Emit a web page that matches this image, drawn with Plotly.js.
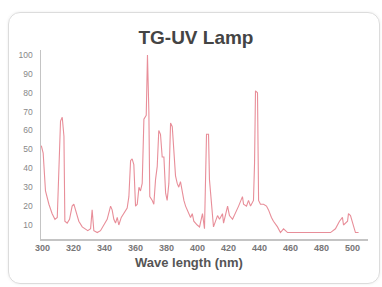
<!DOCTYPE html>
<html>
<head>
<meta charset="utf-8">
<script src="https://cdn.plot.ly/plotly-3.0.1.min.js"></script>
<style>
html,body{margin:0;padding:0;background:#fff;}
#frame{position:absolute;left:8px;top:12px;width:370px;height:270px;border:1.5px solid #dcdcdc;border-radius:12px;box-shadow:0 0 3px rgba(0,0,0,0.08);}
#chart{position:absolute;left:0;top:0;width:382px;height:287px;}
</style>
</head>
<body>
<div id="frame"></div>
<div id="chart"></div>
<script>
// Wavelength (nm) and relative intensity
const wavelength = [
  299.2, 300.4, 301.9, 304.1, 306.2, 308.0, 309.5, 310.5, 311.6, 312.7, 313.8, 314.4,
  315.9, 317.4, 319.1, 320.2, 321.9, 323.4, 325.6, 327.7, 329.2, 331.0, 332.0, 333.1,
  335.3, 337.4, 339.6, 341.7, 343.9, 344.9, 346.0, 347.1, 348.2, 349.2, 350.8, 352.5,
  354.6, 355.7, 356.8, 357.8, 358.9, 360.0, 361.1, 362.2, 363.2, 364.3, 365.4, 366.9,
  367.7, 368.6, 369.2, 370.8, 371.8, 372.9, 374.0, 375.0, 376.1, 377.2, 378.3, 379.4,
  380.4, 381.5, 382.6, 383.7, 384.7, 385.8, 386.9, 387.9, 389.0, 390.1, 391.2, 392.3,
  393.3, 394.4, 395.5, 396.6, 397.6, 399.8, 401.3, 403.2, 404.5, 405.8, 407.1, 407.7,
  409.7, 410.3, 412.9, 414.2, 416.1, 416.8, 419.4, 420.6, 422.6, 424.5, 426.5, 429.0,
  429.7, 431.6, 432.9, 434.2, 436.1, 436.8, 437.4, 438.7, 439.4, 440.6, 442.6, 444.5,
  445.8, 447.7, 449.0, 451.6, 453.5, 455.5, 458.1, 461.9, 471.0, 479.4, 485.8, 489.0,
  491.6, 493.5, 494.2, 496.8, 497.4, 498.7, 500.6, 501.9, 503.9
];
const intensity = [
  52, 48, 28, 21, 16, 13, 14, 44, 65, 67, 57, 12,
  11, 13, 20, 21, 16, 12, 9, 8, 7, 8, 18, 7,
  6, 7, 10, 13, 20, 18, 13, 11, 14, 10, 14, 16,
  19, 25, 44, 45, 42, 20, 21, 30, 28, 32, 66, 68,
  100, 70, 25, 23, 21, 34, 41, 60, 58, 46, 46, 27,
  23, 32, 64, 62, 50, 36, 32, 30, 33, 27, 23, 20,
  18, 16, 14, 16, 12, 10, 9, 16, 8, 58, 58, 34,
  16, 9, 15, 13, 16, 11, 20, 15, 13, 16, 20, 25,
  21, 20, 23, 20, 23, 43, 81, 80, 23, 21, 21, 20,
  18, 14, 12, 9, 6, 8, 6, 6, 6, 6, 6, 8,
  12, 14, 10, 12, 16, 15, 9, 6, 6
];
const xTicks = [300, 320, 340, 360, 380, 400, 420, 440, 460, 480, 500];
const yTicks = [10, 20, 30, 40, 50, 60, 70, 80, 90, 100];

const trace = {
  x: wavelength, y: intensity, type: 'scatter', mode: 'lines',
  line: {color: '#e88e99', width: 1.1}, hoverinfo: 'skip'
};

const layout = {
  width: 382, height: 287,
  paper_bgcolor: 'rgba(0,0,0,0)', plot_bgcolor: 'rgba(0,0,0,0)',
  margin: {l: 41, r: 14, t: 50, b: 48},
  showlegend: false,
  title: {
    text: 'TG-UV Lamp', xref: 'container', x: 0.513, xanchor: 'center',
    yref: 'container', y: 1 - 37/287, yanchor: 'middle',
    font: {family: 'Liberation Sans, Arial, sans-serif', size: 19, color: '#444', weight: 'bold'}
  },
  xaxis: {
    range: [299, 510], tickmode: 'array', tickvals: xTicks,
    showgrid: false, zeroline: false, showline: true, linecolor: '#c4c4c4', linewidth: 1.5,
    ticks: '', tickfont: {family: 'Liberation Sans, Arial, sans-serif', size: 9, color: '#777', weight: 'bold'},
    ticklabelstandoff: 0
  },
  yaxis: {
    range: [2.6, 102.6], tickmode: 'array', tickvals: yTicks,
    showgrid: false, zeroline: false, showline: true, linecolor: '#c4c4c4', linewidth: 1.5,
    ticks: '', tickfont: {family: 'Liberation Sans, Arial, sans-serif', size: 8.5, color: '#888'},
    ticklabelstandoff: 5
  },
  annotations: [{
    text: '<b>Wave length (nm)</b>', xref: 'paper', yref: 'paper',
    x: 0.453, y: -0.122, xanchor: 'center', yanchor: 'middle', showarrow: false,
    font: {family: 'Liberation Sans, Arial, sans-serif', size: 13, color: '#555'}
  }]
};

Plotly.newPlot('chart', [trace], layout, {staticPlot: true, displayModeBar: false});
</script>
</body>
</html>
